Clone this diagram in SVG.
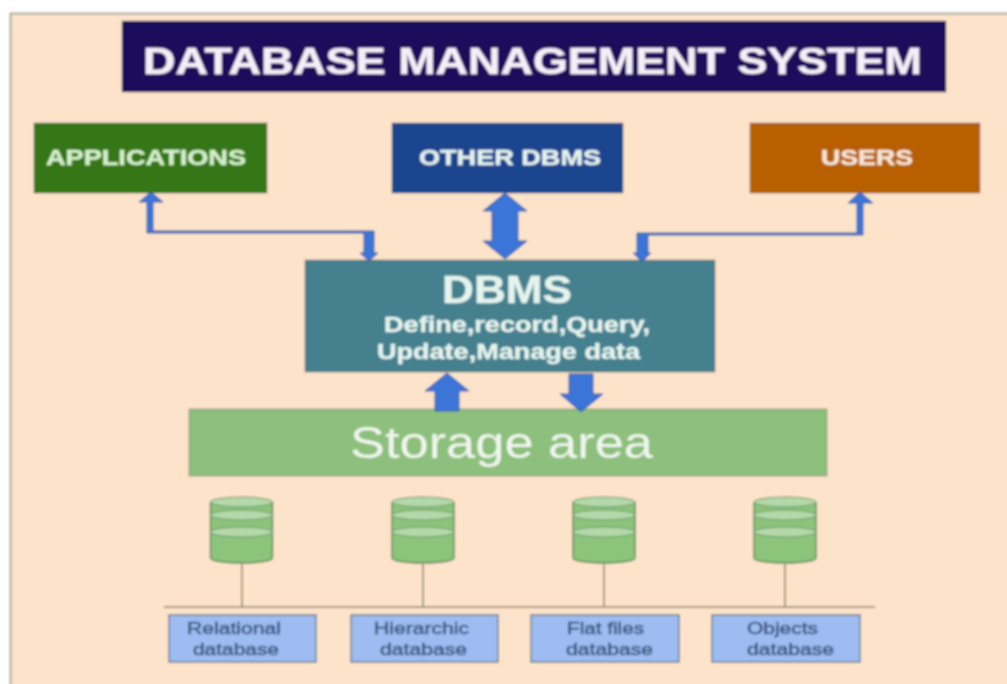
<svg xmlns="http://www.w3.org/2000/svg" width="1007" height="684" viewBox="0 0 1007 684">
<defs>
<filter id="soft" x="0" y="0" width="100%" height="100%"><feGaussianBlur stdDeviation="0.8"/></filter>
<style>
text{font-family:"Liberation Sans",Arial,sans-serif;text-anchor:start}
.h{font-weight:bold;fill:#e6f4ee;stroke:#e6f4ee;stroke-width:.4px}
.db{font-size:16.5px;fill:#3a5580;stroke:#3a5580;stroke-width:.5px}
.lbl{fill:#9cbcf2;stroke:#6f7f8f;stroke-width:1.5}
.arrow{fill:#3a74d8;stroke:#3a5a9a;stroke-width:1}
.line{stroke:#8f7f68;stroke-width:1.5;fill:none}
.cyl{fill:#8cc47c;stroke:#5f8a58;stroke-width:1.5}
.ell{fill:#b4d8aa;stroke:#5f8a58;stroke-width:.8}
.edge{stroke:#5a5a50;stroke-opacity:.45;stroke-width:1}
</style>
<g id="cyl">
<path class="cyl" d="M-31 -28V28A31 5 0 0 0 31 28V-28"/>
<ellipse class="ell" cx="0" cy="-28" rx="31" ry="5"/>
<ellipse class="ell" cx="0" cy="-15" rx="31" ry="5"/>
<ellipse class="ell" cx="0" cy="2" rx="31" ry="5"/>
</g>
</defs>
<g filter="url(#soft)">
<rect width="1007" height="684" fill="#ffffff"/>
<rect x="10.500" y="13.500" width="1000" height="680" fill="#fde3ca" stroke="#a8a8a0" stroke-width="2"/>
<g id="title"><rect class="edge" x="122" y="21" width="824" height="71" fill="#1c0f5c"/><text x="143" y="74" font-size="37" class="h" style="fill:#f4f0f8;stroke:#f4f0f8" textLength="779" lengthAdjust="spacingAndGlyphs">DATABASE MANAGEMENT SYSTEM</text></g>
<g id="applications"><rect class="edge" x="34" y="123" width="233" height="70" fill="#367717"/><text x="46" y="165" font-size="21.500" class="h" style="fill:#d6f0cc;stroke:#d6f0cc" textLength="200" lengthAdjust="spacingAndGlyphs">APPLICATIONS</text></g>
<g id="other-dbms"><rect class="edge" x="392" y="123" width="231" height="70" fill="#1b4590"/><text x="419" y="165" font-size="21.500" class="h" textLength="182" lengthAdjust="spacingAndGlyphs">OTHER DBMS</text></g>
<g id="users"><rect class="edge" x="750" y="123" width="230" height="70" fill="#b85f05"/><text x="821" y="165" font-size="21.500" class="h" style="fill:#f6e6d6;stroke:#f6e6d6" textLength="92" lengthAdjust="spacingAndGlyphs">USERS</text></g>
<g id="dbms"><rect class="edge" x="305" y="260" width="410" height="112" fill="#44808f"/>
<text x="442" y="303" font-size="38" class="h" textLength="130" lengthAdjust="spacingAndGlyphs">DBMS</text>
<text x="384" y="332" font-size="22" class="h" textLength="266" lengthAdjust="spacingAndGlyphs">Define,record,Query,</text>
<text x="377" y="359" font-size="22" class="h" textLength="263" lengthAdjust="spacingAndGlyphs">Update,Manage data</text></g>
<g id="storage"><rect class="edge" x="189" y="409" width="638" height="67" fill="#8cc07c"/><text x="350" y="458" font-size="45" fill="#f0f6ee" textLength="303" lengthAdjust="spacingAndGlyphs">Storage area</text></g>
<g id="connectors">
<path class="arrow" d="M151 192L163 202H153V231H374V253H378L369 261L360 253H364V233H147V202H139Z"/>
<path class="arrow" d="M860 192L873 203H863V235H648V253H651L642 262L633 253H637V233H857V203H848Z"/>
<path class="arrow" d="M505 193L527 211H518V241H527L505 259L483 241H492V211H483Z"/>
<path class="arrow" d="M447 373L469 391H459V411H435V391H425Z"/>
<path class="arrow" d="M569 374H593V394H603L581 412L560 394H569Z"/>
<path class="line" d="M164 607H875M242 564V607M423 564V607M604 564V607M785 564V607"/>
</g>
<g id="cyl-1"><use href="#cyl" x="241.500" y="530"/></g>
<g id="cyl-2"><use href="#cyl" x="423" y="530"/></g>
<g id="cyl-3"><use href="#cyl" x="604" y="530"/></g>
<g id="cyl-4"><use href="#cyl" x="785" y="530"/></g>
<g id="relational"><rect class="lbl" x="169" y="615" width="147" height="47"/><text class="db" x="187" y="634" textLength="94" lengthAdjust="spacingAndGlyphs">Relational</text><text class="db" x="193" y="655" textLength="86" lengthAdjust="spacingAndGlyphs">database</text></g>
<g id="hierarchic"><rect class="lbl" x="351" y="615" width="147" height="47"/><text class="db" x="374" y="634" textLength="95" lengthAdjust="spacingAndGlyphs">Hierarchic</text><text class="db" x="380" y="655" textLength="87" lengthAdjust="spacingAndGlyphs">database</text></g>
<g id="flat-files"><rect class="lbl" x="531" y="615" width="148" height="47"/><text class="db" x="567" y="634" textLength="77" lengthAdjust="spacingAndGlyphs">Flat files</text><text class="db" x="566" y="655" textLength="87" lengthAdjust="spacingAndGlyphs">database</text></g>
<g id="objects"><rect class="lbl" x="712" y="615" width="148" height="47"/><text class="db" x="747" y="634" textLength="71" lengthAdjust="spacingAndGlyphs">Objects</text><text class="db" x="747" y="655" textLength="87" lengthAdjust="spacingAndGlyphs">database</text></g>
</g>
</svg>
